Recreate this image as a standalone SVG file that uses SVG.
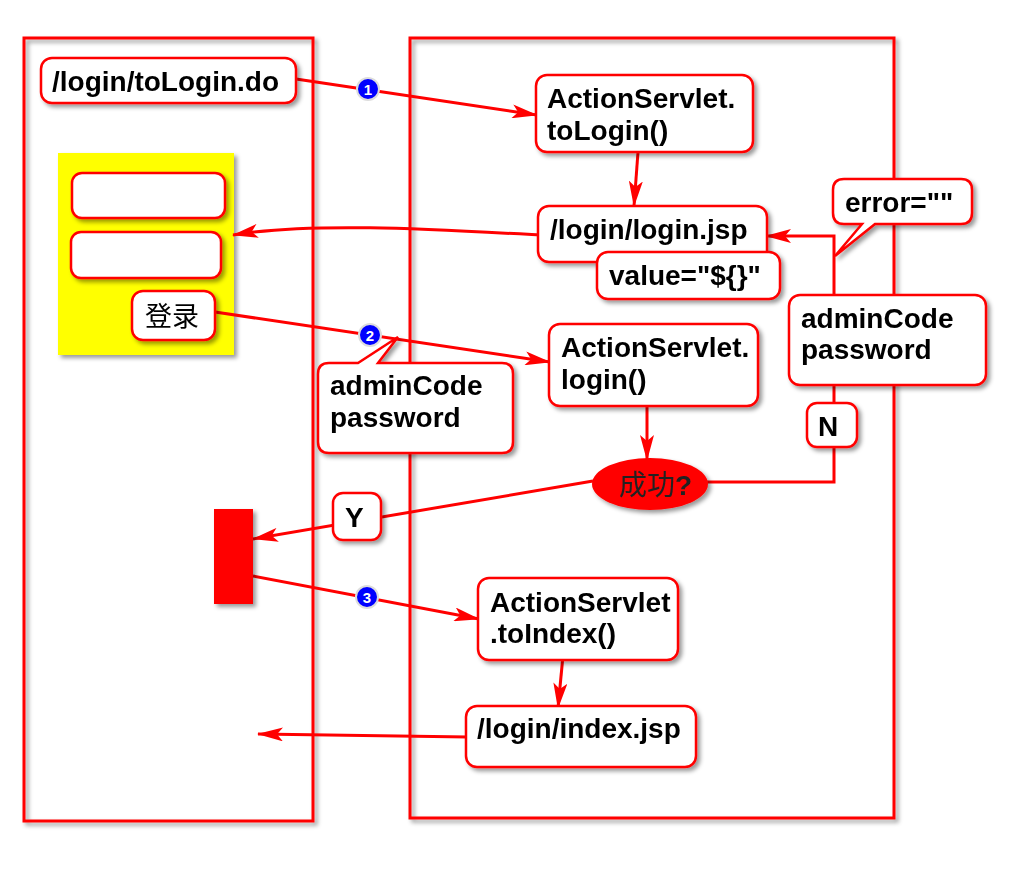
<svg xmlns="http://www.w3.org/2000/svg" width="1024" height="871" viewBox="0 0 1024 871">
<style>
.cont{fill:none;stroke:#f00;stroke-width:3}
.box{fill:#fff;stroke:#f00;stroke-width:2.5}
.lbl{font-family:"Liberation Sans",Arial,sans-serif;font-weight:bold;font-size:28px;fill:#000}
.cjk{font-family:"Noto Sans CJK SC",sans-serif;font-size:27px;fill:#000}
.edge{fill:none;stroke:#f00;stroke-width:3}
.num circle{fill:#00f;stroke:#ddd;stroke-width:2}
.num text{font-family:"Liberation Sans",Arial,sans-serif;font-weight:bold;font-size:15px;fill:#fff;text-anchor:middle}
</style>
<defs>
<filter id="sh" x="-10%" y="-10%" width="130%" height="140%">
<feDropShadow dx="3" dy="3" stdDeviation="2" flood-color="#000" flood-opacity="0.4"/>
</filter>
<marker id="ah" viewBox="0 0 26 14" refX="25" refY="7" markerWidth="26" markerHeight="14" markerUnits="userSpaceOnUse" orient="auto">
<path d="M0,0 L26,7 L0,14 L6,7 Z" fill="#f00"/>
</marker>
</defs>
<rect width="1024" height="871" fill="#fff"/>

<g id="browser" filter="url(#sh)"><rect class="cont" x="24" y="38" width="289" height="783"/></g>
<g id="server" filter="url(#sh)"><rect class="cont" x="410" y="38" width="484" height="780"/></g>

<g id="login-form" filter="url(#sh)">
<rect x="58" y="153" width="176" height="202" fill="#ff0"/>
</g>
<g id="input-code" filter="url(#sh)"><rect class="box" x="72" y="173" width="153" height="45" rx="10"/></g>
<g id="input-pwd" filter="url(#sh)"><rect class="box" x="71" y="232" width="150" height="46" rx="10"/></g>

<g id="connectors">
<path class="edge" d="M296,79 L537,115" marker-end="url(#ah)"/>
<path class="edge" d="M638,152 L634,206" marker-end="url(#ah)"/>
<path class="edge" d="M540,235 C430,229 310,222 233,235" marker-end="url(#ah)"/>
<path class="edge" d="M215,312 L550,362" marker-end="url(#ah)"/>
<path class="edge" d="M647,400 L647,460" marker-end="url(#ah)"/>
<path class="edge" d="M706,482 L834,482 L834,236 L766,236" marker-end="url(#ah)"/>
<path class="edge" d="M593,481 L253,539" marker-end="url(#ah)"/>
<path class="edge" d="M253,576 L479,619" marker-end="url(#ah)"/>
<path class="edge" d="M564,645 L558,708" marker-end="url(#ah)"/>
<path class="edge" d="M468,737 L258,734" marker-end="url(#ah)"/>
</g>

<g id="n-tologin-do" filter="url(#sh)">
<rect class="box" x="41" y="58" width="255" height="45" rx="11"/>
<text class="lbl" x="52" y="91">/login/toLogin.do</text>
</g>
<g id="n-btn-login" filter="url(#sh)">
<rect class="box" x="132" y="291" width="83" height="49" rx="11"/>
<text class="cjk" x="145" y="326">登录</text>
</g>
<g id="n-tologin" filter="url(#sh)">
<rect class="box" x="536" y="75" width="217" height="77" rx="11"/>
<text class="lbl" x="547" y="108">ActionServlet.</text>
<text class="lbl" x="547" y="140">toLogin()</text>
</g>
<g id="n-loginjsp" filter="url(#sh)">
<rect class="box" x="538" y="206" width="229" height="56" rx="11"/>
<text class="lbl" x="550" y="239">/login/login.jsp</text>
</g>
<g id="n-value" filter="url(#sh)">
<rect class="box" x="597" y="252" width="183" height="47" rx="11"/>
<text class="lbl" x="609" y="285">value="${}"</text>
</g>
<g id="n-error" filter="url(#sh)">
<path class="box" d="M844,179 H961 Q972,179 972,190 V213 Q972,224 961,224 H875 L835,256 L862,224 H844 Q833,224 833,213 V190 Q833,179 844,179 Z"/>
<text class="lbl" x="845" y="212">error=""</text>
</g>
<g id="n-params-right" filter="url(#sh)">
<rect class="box" x="789" y="295" width="197" height="90" rx="11"/>
<text class="lbl" x="801" y="328">adminCode</text>
<text class="lbl" x="801" y="359">password</text>
</g>
<g id="n-N" filter="url(#sh)">
<rect class="box" x="807" y="403" width="50" height="44" rx="10"/>
<text class="lbl" x="818" y="436">N</text>
</g>
<g id="n-login" filter="url(#sh)">
<rect class="box" x="549" y="324" width="209" height="82" rx="11"/>
<text class="lbl" x="561" y="357">ActionServlet.</text>
<text class="lbl" x="561" y="389">login()</text>
</g>
<g id="n-params-left" filter="url(#sh)">
<path class="box" d="M329,363 H358 L398,337 L378,363 H502 Q513,363 513,374 V442 Q513,453 502,453 H329 Q318,453 318,442 V374 Q318,363 329,363 Z"/>
<text class="lbl" x="330" y="395">adminCode</text>
<text class="lbl" x="330" y="427">password</text>
</g>
<g id="n-success" filter="url(#sh)">
<ellipse cx="650" cy="484" rx="58" ry="26" fill="#f00"/>
<text x="619" y="495" font-family="Noto Sans CJK SC,sans-serif" font-size="28" fill="#222">成功<tspan font-family="Liberation Sans,Arial,sans-serif" font-weight="bold" font-size="28">?</tspan></text>
</g>
<g id="n-Y" filter="url(#sh)">
<rect class="box" x="333" y="493" width="48" height="47" rx="10"/>
<text class="lbl" x="345" y="527">Y</text>
</g>
<g id="n-redirect" filter="url(#sh)">
<rect x="214" y="509" width="39" height="95" fill="#f00"/>
</g>
<g id="n-toindex" filter="url(#sh)">
<rect class="box" x="478" y="578" width="200" height="82" rx="11"/>
<text class="lbl" x="490" y="612">ActionServlet</text>
<text class="lbl" x="490" y="643">.toIndex()</text>
</g>
<g id="n-indexjsp" filter="url(#sh)">
<rect class="box" x="466" y="706" width="230" height="61" rx="11"/>
<text class="lbl" x="477" y="738">/login/index.jsp</text>
</g>

<g id="step-1" class="num"><circle cx="368" cy="89" r="11"/><text x="368" y="94.5">1</text></g>
<g id="step-2" class="num"><circle cx="370" cy="335" r="11"/><text x="370" y="340.5">2</text></g>
<g id="step-3" class="num"><circle cx="367" cy="597" r="11"/><text x="367" y="602.5">3</text></g>
</svg>
